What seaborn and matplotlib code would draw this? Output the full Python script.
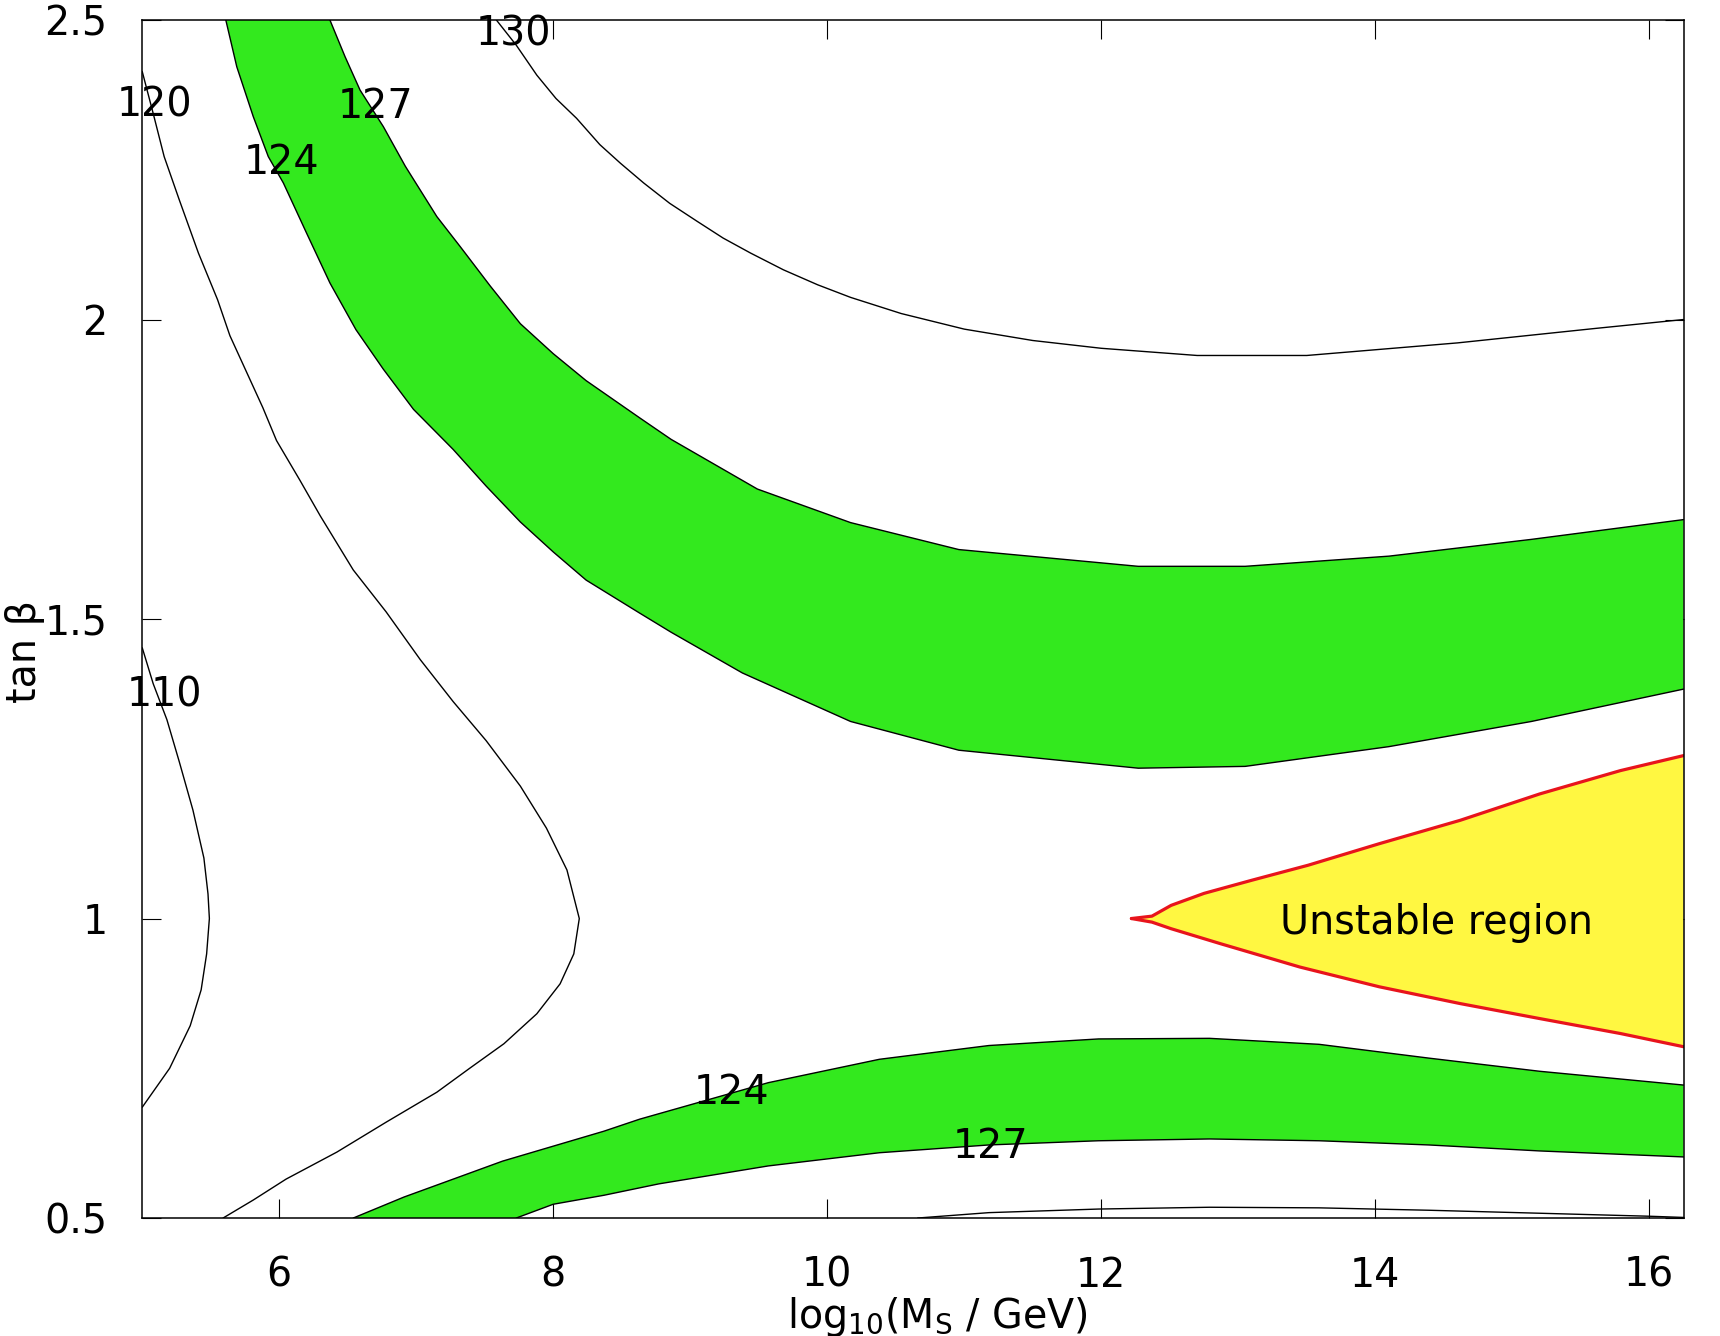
import matplotlib
matplotlib.use("Agg")
import matplotlib.pyplot as plt
import seaborn as sns

# contour lines: x = log10(M_S / GeV), y = tan(beta)
c130_up_x = [7.585, 7.73, 7.88, 8.02, 8.17, 8.34, 8.49, 8.66, 8.85, 9.05, 9.24, 9.44, 9.68, 9.93, 10.17, 10.54,
             11.0, 11.5, 12.0, 12.7, 13.5, 14.6, 15.6, 16.25]
c130_up_y = [2.5, 2.458, 2.408, 2.369, 2.336, 2.292, 2.261, 2.228, 2.194, 2.164, 2.136, 2.111, 2.083, 2.058, 2.037, 2.010,
             1.984, 1.965, 1.952, 1.940, 1.940, 1.961, 1.985, 2.0]

c127_up_x = [6.37, 6.48, 6.59, 6.76, 6.92, 7.15, 7.32, 7.54, 7.76, 8.0, 8.24, 8.63, 8.86, 9.49, 10.17, 10.96,
             12.27, 13.05, 14.10, 15.14, 16.25]
c127_up_y = [2.5, 2.439, 2.383, 2.322, 2.256, 2.172, 2.122, 2.056, 1.993, 1.943, 1.898, 1.836, 1.80, 1.717, 1.661, 1.616,
             1.588, 1.588, 1.605, 1.633, 1.666]

c124_up_x = [5.61, 5.69, 5.81, 5.92, 6.03, 6.20, 6.37, 6.56, 6.76, 6.98, 7.27, 7.51, 7.76, 8.0, 8.24, 8.63, 8.86,
             9.38, 10.17, 10.96, 12.27, 13.05, 14.10, 15.14, 16.25]
c124_up_y = [2.5, 2.422, 2.339, 2.272, 2.228, 2.144, 2.061, 1.983, 1.917, 1.85, 1.783, 1.722, 1.662, 1.612, 1.565, 1.510, 1.478,
             1.41, 1.329, 1.281, 1.251, 1.254, 1.287, 1.329, 1.383]

c120_x = [5.0, 5.08, 5.16, 5.27, 5.41, 5.55, 5.64, 5.76, 5.88, 5.98, 6.15, 6.30, 6.54, 6.78, 7.03, 7.27, 7.51, 7.76,
          7.95, 8.10, 8.19, 8.15, 8.05, 7.88, 7.64, 7.39, 7.15, 6.78, 6.42, 6.05, 5.81, 5.59]
c120_y = [2.414, 2.344, 2.272, 2.2, 2.111, 2.033, 1.973, 1.913, 1.853, 1.798, 1.732, 1.672, 1.582, 1.512, 1.432, 1.362,
          1.297, 1.221, 1.151, 1.081, 1.0, 0.941, 0.891, 0.841, 0.791, 0.75, 0.71, 0.66, 0.61, 0.565, 0.53, 0.5]

c110_x = [5.0, 5.08, 5.18, 5.27, 5.37, 5.45, 5.48, 5.49, 5.47, 5.43, 5.35, 5.20, 5.0]
c110_y = [1.452, 1.392, 1.332, 1.262, 1.181, 1.101, 1.041, 1.0, 0.941, 0.881, 0.821, 0.75, 0.685]

c124_lo_x = [6.54, 6.91, 7.27, 7.63, 8.0, 8.37, 8.63, 9.57, 10.38, 11.18, 11.98, 12.79, 13.59, 14.39, 15.20, 16.25]
c124_lo_y = [0.5, 0.535, 0.565, 0.595, 0.62, 0.645, 0.665, 0.726, 0.765, 0.788, 0.799, 0.80, 0.79, 0.767, 0.745, 0.722]

c127_lo_x = [7.73, 8.0, 8.37, 8.77, 9.57, 10.38, 11.18, 11.98, 12.79, 13.59, 14.39, 15.20, 16.25]
c127_lo_y = [0.5, 0.523, 0.538, 0.557, 0.587, 0.609, 0.622, 0.629, 0.632, 0.629, 0.622, 0.612, 0.602]

c130_lo_x = [10.66, 11.18, 11.98, 12.79, 13.59, 14.39, 15.20, 16.0, 16.25]
c130_lo_y = [0.5, 0.509, 0.515, 0.518, 0.517, 0.513, 0.508, 0.503, 0.501]

# boundary of the unstable region
unst_up_x = [12.22, 12.37, 12.51, 12.75, 13.10, 13.51, 14.03, 14.62, 15.20, 15.79, 16.25]
unst_up_y = [1.0, 1.004, 1.022, 1.042, 1.064, 1.089, 1.125, 1.164, 1.208, 1.247, 1.272]
unst_lo_x = [12.22, 12.37, 12.51, 12.87, 13.45, 14.03, 14.62, 15.20, 15.79, 16.25]
unst_lo_y = [1.0, 0.994, 0.983, 0.958, 0.919, 0.886, 0.858, 0.833, 0.808, 0.786]

# contour labels (x, baseline y)
label_text = ['130', '120', '127', '124', '110', '124', '127']
label_x = [7.71, 5.09, 6.70, 6.02, 5.16, 9.30, 11.19]
label_y = [2.458, 2.339, 2.336, 2.243, 1.354, 0.691, 0.601]

x_ticks = [6, 8, 10, 12, 14, 16]
y_ticks = [0.5, 1, 1.5, 2, 2.5]
y_tick_labels = ['0.5', '1', '1.5', '2', '2.5']

GREEN = '#33e91e'
YELLOW = '#fff741'
RED = '#e8141c'

sns.set_style("ticks")
plt.rcParams['font.family'] = ['DejaVu Sans']
plt.rcParams['mathtext.default'] = 'regular'
plt.rcParams['text.color'] = 'black'
plt.rcParams['axes.labelcolor'] = 'black'
plt.rcParams['xtick.color'] = 'black'
plt.rcParams['ytick.color'] = 'black'

fig = plt.figure(figsize=(17.2, 13.36), dpi=100)
ax = fig.add_axes([0.0827, 0.0883, 0.8961, 0.8967])

# green bands between the 124 and 127 contours
ax.fill(c124_up_x + c127_up_x[::-1], c124_up_y + c127_up_y[::-1], color=GREEN, lw=0, zorder=1)
ax.fill(c124_lo_x + c127_lo_x[::-1], c124_lo_y + c127_lo_y[::-1], color=GREEN, lw=0, zorder=1)
# yellow unstable region
ax.fill(unst_up_x + unst_lo_x[::-1], unst_up_y + unst_lo_y[::-1], color=YELLOW, lw=0, zorder=1)

black_lines = [(c130_up_x, c130_up_y), (c127_up_x, c127_up_y), (c124_up_x, c124_up_y),
               (c120_x, c120_y), (c110_x, c110_y), (c124_lo_x, c124_lo_y),
               (c127_lo_x, c127_lo_y), (c130_lo_x, c130_lo_y)]
for xs, ys in black_lines:
    sns.lineplot(x=xs, y=ys, sort=False, estimator=None, color='black', lw=1.0, ax=ax, zorder=3)

for xs, ys in [(unst_up_x, unst_up_y), (unst_lo_x, unst_lo_y)]:
    sns.lineplot(x=xs, y=ys, sort=False, estimator=None, color=RED, lw=2.3, ax=ax, zorder=4)

for t, x, y in zip(label_text, label_x, label_y):
    ax.text(x, y, t, ha='center', va='baseline', fontsize=28.5, color='black', zorder=5)
ax.text(14.45, 0.975, 'Unstable region', ha='center', va='baseline', fontsize=28.5, color='black', zorder=5)

ax.set_xlim(5, 16.25)
ax.set_ylim(0.5, 2.5)
ax.set_xticks(x_ticks)
ax.set_xticklabels([str(v) for v in x_ticks])
ax.set_yticks(y_ticks)
ax.set_yticklabels(y_tick_labels)
ax.tick_params(direction='in', length=14, width=0.8, top=True, right=True, labelsize=28.5,
               color='black', labelcolor='black')
ax.tick_params(axis='x', pad=27)
ax.tick_params(axis='y', pad=25)
for s in ax.spines.values():
    s.set_linewidth(1.1)
    s.set_color('black')
    s.set_zorder(6)

ax.set_xlabel(r'log$_{10}$(M$_{S}$ / GeV)', fontsize=28.5, color='black')
ax.set_ylabel('tan β', fontsize=28.5, color='black')
ax.xaxis.set_label_coords(0.5156, -0.064)
ax.yaxis.set_label_coords(-0.063, 0.4725)

fig.savefig('out.png', dpi=100)
